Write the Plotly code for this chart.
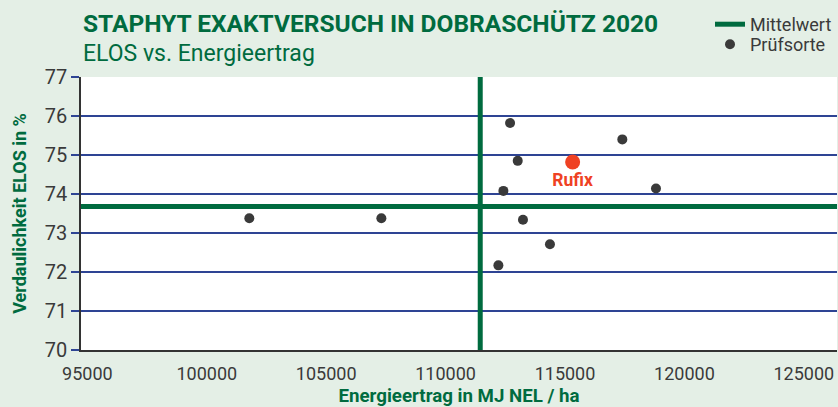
import plotly.graph_objects as go

# Data
sorte_x = [101780, 107310, 112210, 112420, 112700, 113020, 113240, 114370, 117400, 118810]
sorte_y = [73.38, 73.38, 72.17, 74.08, 75.82, 74.85, 73.34, 72.71, 75.40, 74.14]
rufix_x = [115320]
rufix_y = [74.82]
rufix_label = ["Rufix"]
mean_x = 111450
mean_y = 73.68
x_range = [94732, 126390]
y_range = [70, 77]
x_ticks = [95000, 100000, 105000, 110000, 115000, 120000, 125000]
y_ticks = [70, 71, 72, 73, 74, 75, 76, 77]

GREEN = "#006b3f"
BG = "#e4efe6"
BLUE = "#2e4494"
DARK = "#3a3a3a"
RED = "#ef4123"
FONT = "Roboto"

fig = go.Figure()

# Mean lines
fig.add_trace(go.Scatter(
    x=x_range, y=[mean_y, mean_y], mode="lines",
    line=dict(color=GREEN, width=5), name="Mittelwert", showlegend=True,
    legend="legend", hoverinfo="skip"))
fig.add_trace(go.Scatter(
    x=[mean_x, mean_x], y=y_range, mode="lines",
    line=dict(color=GREEN, width=5), name="Mittelwert", showlegend=False,
    hoverinfo="skip"))

# Points
fig.add_trace(go.Scatter(
    x=sorte_x, y=sorte_y, mode="markers",
    marker=dict(color=DARK, size=10), name="Prüfsorte", legend="legend2"))
fig.add_trace(go.Scatter(
    x=rufix_x, y=rufix_y, mode="markers+text", text=rufix_label,
    textposition="bottom center",
    textfont=dict(family=FONT, size=17.5, color=RED, weight="bold"),
    marker=dict(color=RED, size=15), showlegend=False, name="Rufix"))

PH = 273  # plot height in px
def py(px):
    return 1 + (77 - px) / PH

leg_common = dict(xanchor="left", x=(710 - 81) / 756, yanchor="top",
                  bgcolor="rgba(0,0,0,0)", font=dict(size=18, color=DARK),
                  itemwidth=30)

fig.update_layout(
    width=838, height=407,
    paper_bgcolor=BG, plot_bgcolor="white",
    margin=dict(l=81, r=1, t=77, b=57, autoexpand=False),
    font=dict(family=FONT, color=DARK),
    legend=dict(y=py(6), **leg_common),
    legend2=dict(y=py(26), **leg_common),
    xaxis=dict(range=x_range, tickvals=x_ticks, ticktext=[str(v) for v in x_ticks],
               showgrid=False, zeroline=False, showline=True, linecolor="#333333",
               linewidth=1.5, ticks="", tickfont=dict(size=18, color=DARK),
               ticklabelstandoff=7,
               title=dict(text="<b>Energieertrag in MJ NEL / ha</b>",
                          font=dict(size=18.7, color=GREEN), standoff=8)),
    yaxis=dict(range=y_range, tickvals=y_ticks, showgrid=True, gridcolor=BLUE,
               gridwidth=1.5, zeroline=False, showline=True, linecolor="#333333",
               linewidth=1.5, ticks="outside", ticklen=8, tickcolor=BLUE,
               tickwidth=1.5, tickfont=dict(size=20, color=DARK),
               title=dict(text="<b>Verdaulichkeit ELOS in %</b>",
                          font=dict(size=18, color=GREEN), standoff=13)),
    annotations=[
        dict(text="<b>STAPHYT EXAKTVERSUCH IN DOBRASCHÜTZ 2020</b>",
             xref="paper", yref="paper", x=0, y=py(23),
             xanchor="left", yanchor="middle", showarrow=False,
             font=dict(size=24.5, color=GREEN, family=FONT)),
        dict(text="ELOS vs. Energieertrag",
             xref="paper", yref="paper", x=0, y=py(53),
             xanchor="left", yanchor="middle", showarrow=False,
             font=dict(size=23, color=GREEN, family=FONT)),
    ],
)

fig.write_html("out.html", config={"displayModeBar": False},
               post_script="document.body.style.margin='0';")
